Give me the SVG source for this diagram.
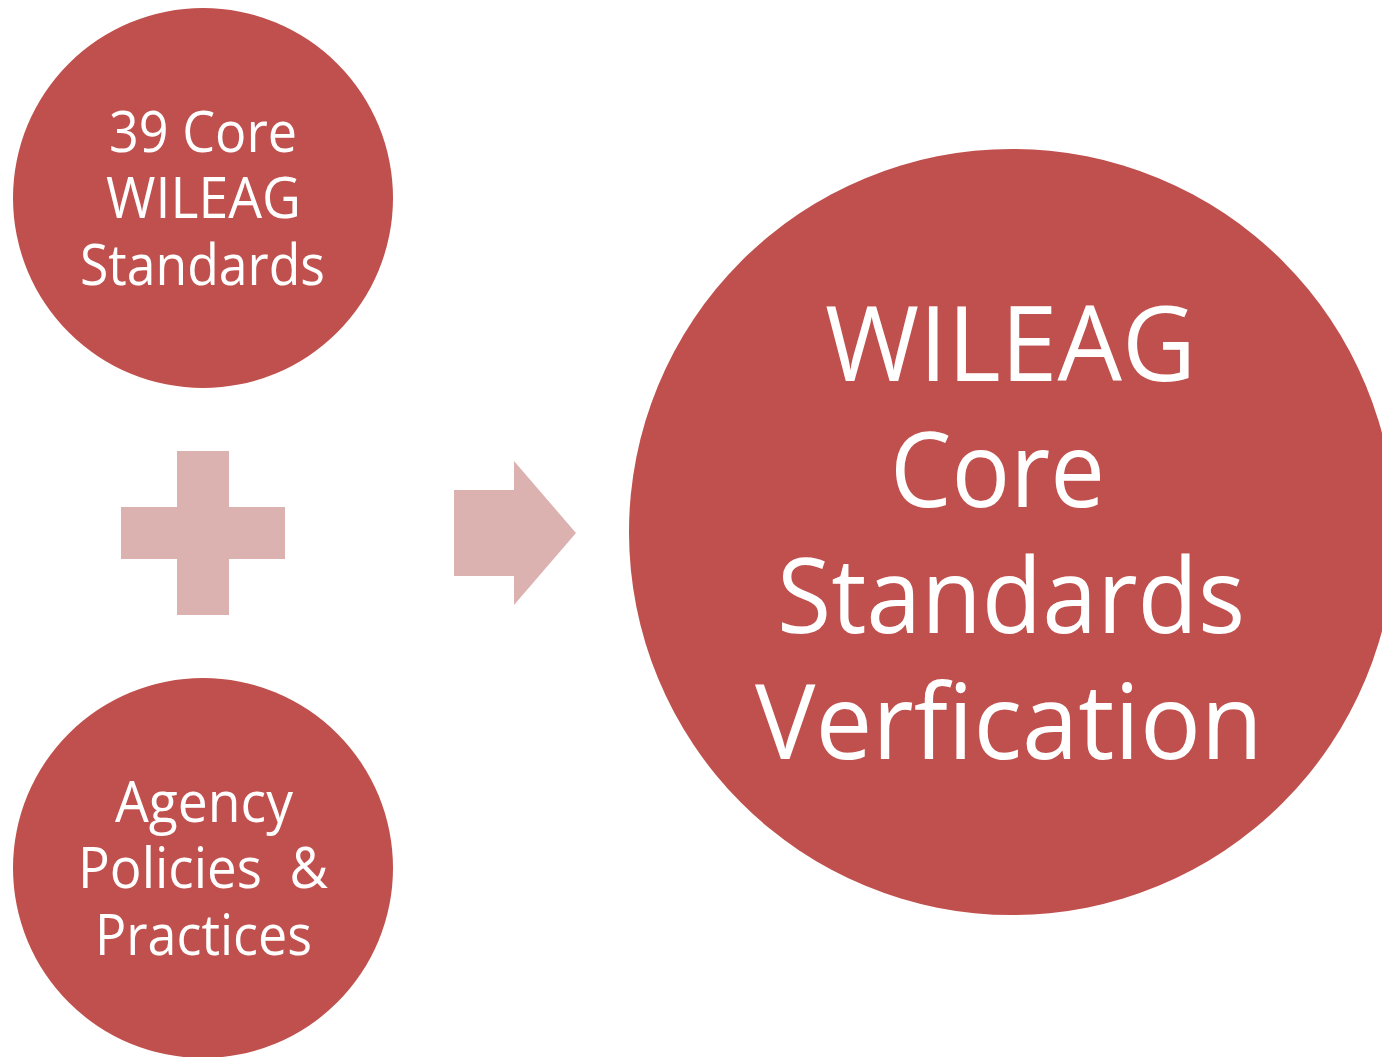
<svg xmlns="http://www.w3.org/2000/svg" width="1382" height="1057" viewBox="0 0 1382 1057">
<style>
.node{fill:#C0504D}
.sym{fill:#DCB2B1}
.t{fill:#FFFFFF;font-family:"Open Sans","Noto Sans","Liberation Sans",sans-serif;text-anchor:middle;white-space:pre}
.s{font-size:57px}
.b{font-size:104px}
</style>
<rect width="1382" height="1057" fill="#FFFFFF"/>
<g id="node-core39">
<circle class="node" cx="203" cy="198" r="190"/>
<text class="t s" x="203" y="152" textLength="188" lengthAdjust="spacingAndGlyphs">39 Core</text>
<text class="t s" x="203.5" y="218" textLength="195" lengthAdjust="spacingAndGlyphs">WILEAG</text>
<text class="t s" x="202.5" y="285" textLength="245" lengthAdjust="spacingAndGlyphs">Standards</text>
</g>
<g id="node-agency">
<circle class="node" cx="203" cy="868" r="190"/>
<text class="t s" x="204" y="822" textLength="178" lengthAdjust="spacingAndGlyphs">Agency</text>
<text class="t s" x="203" y="888" textLength="250" lengthAdjust="spacingAndGlyphs" xml:space="preserve">Policies  &amp;</text>
<text class="t s" x="203.5" y="955" textLength="217" lengthAdjust="spacingAndGlyphs">Practices</text>
</g>
<g id="node-verification">
<circle class="node" cx="1012" cy="532" r="383"/>
<text class="t b" x="1010.5" y="381" textLength="371" lengthAdjust="spacingAndGlyphs">WILEAG</text>
<text class="t b" x="997.5" y="507" textLength="215" lengthAdjust="spacingAndGlyphs">Core</text>
<text class="t b" x="1011" y="633" textLength="468" lengthAdjust="spacingAndGlyphs">Standards</text>
<text class="t b" x="1009" y="759" textLength="508" lengthAdjust="spacingAndGlyphs">Verfication</text>
</g>
<g id="connectors">
<path id="plus" class="sym" d="M177,451 H229 V507 H285 V559 H229 V615 H177 V559 H121 V507 H177 Z"/>
<path id="arrow" class="sym" d="M454,490 H514 V461 L576,533 L514,605 V576 H454 Z"/>
</g>
</svg>
